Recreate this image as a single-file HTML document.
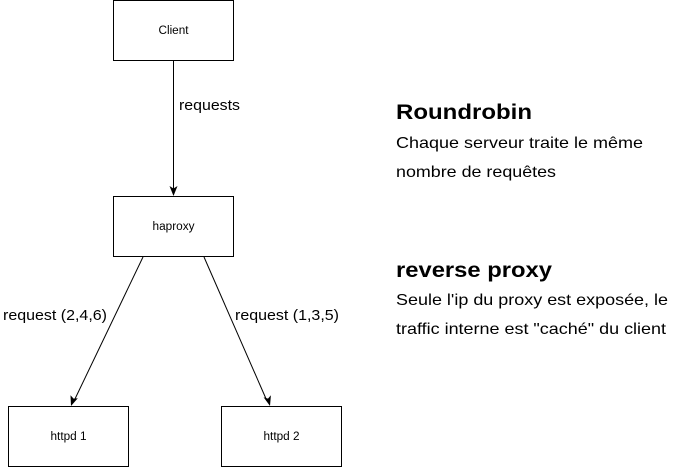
<!DOCTYPE html>
<html><head><style>
body{margin:0;background:#fff;width:690px;height:468px;overflow:hidden}
svg{display:block}
</style></head><body>
<svg width="690" height="468" xmlns="http://www.w3.org/2000/svg" font-family="Liberation Sans, Arial, sans-serif">
<g fill="#fff" stroke="#000" stroke-width="1">
<rect x="113.5" y="0.5" width="120" height="60"/>
<rect x="113.5" y="196.5" width="120" height="60"/>
<rect x="8.5" y="406.5" width="120" height="60"/>
<rect x="221.5" y="406.5" width="120" height="60"/>
</g>
<g stroke="#000" stroke-width="1" fill="none">
<line x1="173.5" y1="61" x2="173.5" y2="190"/>
<line x1="143" y1="257" x2="74" y2="401"/>
<line x1="204" y1="257" x2="267" y2="401"/>
</g>
<g fill="#000">
<polygon points="173.5,196 169.5,186 173.5,188.5 177.5,186"/>
<polygon points="71,406 70.5,395.2 73.6,398.6 77.8,398.3"/>
<polygon points="270,406 263.6,397.3 268,398.6 270.9,395.3"/>
</g>
<g font-size="11.5" text-anchor="middle">
<text x="173.5" y="34" textLength="30" lengthAdjust="spacingAndGlyphs">Client</text>
<text x="173.5" y="230" textLength="42" lengthAdjust="spacingAndGlyphs">haproxy</text>
<text x="68.5" y="440" textLength="36" lengthAdjust="spacingAndGlyphs">httpd 1</text>
<text x="281.5" y="440" textLength="36" lengthAdjust="spacingAndGlyphs">httpd 2</text>
</g>
<g font-size="15" lengthAdjust="spacingAndGlyphs">
<rect x="178" y="95" width="64" height="19" fill="#fff"/>
<text x="179" y="110" textLength="61" lengthAdjust="spacingAndGlyphs">requests</text>
<text x="3" y="320" textLength="104" lengthAdjust="spacingAndGlyphs">request (2,4,6)</text>
<text x="235" y="320" textLength="104" lengthAdjust="spacingAndGlyphs">request (1,3,5)</text>
</g>
<text x="396" y="119" font-size="21" font-weight="bold" textLength="136" lengthAdjust="spacingAndGlyphs">Roundrobin</text>
<text x="396" y="148" font-size="16" textLength="247" lengthAdjust="spacingAndGlyphs">Chaque serveur traite le même</text>
<text x="396" y="177" font-size="16" textLength="160" lengthAdjust="spacingAndGlyphs">nombre de requêtes</text>
<text x="396" y="277" font-size="21" font-weight="bold" textLength="156" lengthAdjust="spacingAndGlyphs">reverse proxy</text>
<text x="396" y="305" font-size="16" textLength="272" lengthAdjust="spacingAndGlyphs">Seule l'ip du proxy est exposée, le</text>
<text x="396" y="334" font-size="16" textLength="270" lengthAdjust="spacingAndGlyphs">traffic interne est "caché" du client</text>
</svg>
</body></html>
